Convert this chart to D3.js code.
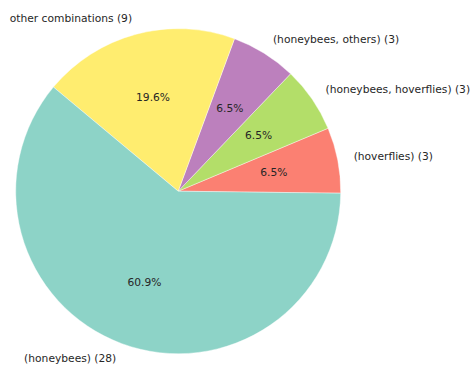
<!DOCTYPE html>
<html>
<head>
<meta charset="utf-8">
<script src="https://cdn.jsdelivr.net/npm/d3@7"></script>
<style>
  body { margin: 0; background: #fff; }
  text { font-family: "DejaVu Sans", sans-serif; font-size: 10.7px; fill: #262626; }
</style>
</head>
<body>
<svg class="chart"></svg>
<script>
const width = 473;
const height = 367;

// data, in matplotlib drawing order (counter-clockwise from east)
const labels = ["(hoverflies) (3)", "(honeybees, hoverflies) (3)", "(honeybees, others) (3)", "other combinations (9)", "(honeybees) (28)"];
const counts = [3, 3, 3, 9, 28];
const colors = ["#fb8072", "#b3de69", "#bc80bd", "#ffed6f", "#8dd3c7"];

const cx = 178.2;
const cy = 191.2;
const radius = 162.5;
const tilt = 0.7 * Math.PI / 180; // pie is turned slightly clockwise

const svg = d3.select(".chart")
  .attr("width", width)
  .attr("height", height);

const total = d3.sum(counts);

const pie = d3.pie()
  .sort(null)
  .value(d => d)
  .startAngle(Math.PI / 2 + tilt)
  .endAngle(Math.PI / 2 + tilt - 2 * Math.PI);

const arcs = pie(counts);

const arc = d3.arc().innerRadius(0).outerRadius(radius);

const g = svg.append("g")
  .attr("transform", `translate(${cx}, ${cy})`);

g.selectAll("path")
  .data(arcs)
  .enter()
  .append("path")
  .attr("d", arc)
  .attr("fill", (d, i) => colors[i])
  .attr("stroke", "#fff")
  .attr("stroke-width", 0.4);

// d3 angle -> point at distance r
const pt = (a, r) => [r * Math.sin(a), -r * Math.cos(a)];
const mid = d => (d.startAngle + d.endAngle) / 2;

g.selectAll(".pct")
  .data(arcs)
  .enter()
  .append("text")
  .attr("class", "pct")
  .attr("x", d => pt(mid(d), radius * 0.6)[0])
  .attr("y", d => pt(mid(d), radius * 0.6)[1])
  .attr("text-anchor", "middle")
  .attr("dominant-baseline", "central")
  .text(d => (d.value / total * 100).toFixed(1) + "%");

g.selectAll(".lbl")
  .data(arcs)
  .enter()
  .append("text")
  .attr("class", "lbl")
  .attr("x", d => pt(mid(d), radius * 1.1)[0])
  .attr("y", d => pt(mid(d), radius * 1.1)[1])
  .attr("text-anchor", d => pt(mid(d), 1)[0] > 0 ? "start" : "end")
  .attr("dominant-baseline", "central")
  .text((d, i) => labels[i]);
</script>
</body>
</html>
